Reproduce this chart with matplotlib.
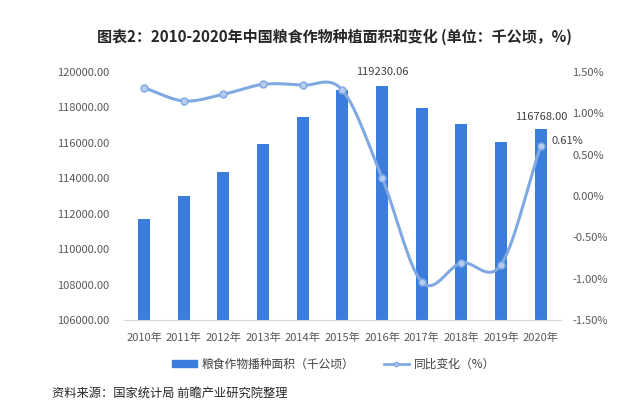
import numpy as np
import matplotlib
matplotlib.use("Agg")
import matplotlib.pyplot as plt
from matplotlib.patches import Patch
from matplotlib.lines import Line2D

plt.rcParams['font.family'] = ['Noto Sans CJK SC', 'DejaVu Sans']

years = ["2010年", "2011年", "2012年", "2013年", "2014年", "2015年",
         "2016年", "2017年", "2018年", "2019年", "2020年"]
area = [111695, 112980, 114368, 115908, 117455, 118963,
        119230.06, 117989, 117038, 116064, 116768.00]
yoy = [1.31, 1.15, 1.23, 1.35, 1.34, 1.28, 0.22, -1.04, -0.81, -0.83, 0.61]
left_ticks = [106000, 108000, 110000, 112000, 114000, 116000, 118000, 120000]
right_ticks = [-1.5, -1.0, -0.5, 0.0, 0.5, 1.0, 1.5]

title = "图表2：2010-2020年中国粮食作物种植面积和变化 (单位：千公顷，%)"
source = "资料来源：国家统计局 前瞻产业研究院整理"
bar_label = "粮食作物播种面积（千公顷）"
line_label = "同比变化（%）"

bar_color = "#3b7ddd"
line_color = "#80a9e2"
tick_color = "#595959"


def smooth(xs, ys, n=30):
    xs = np.asarray(xs, float)
    ys = np.asarray(ys, float)
    px = np.concatenate([[2 * xs[0] - xs[1]], xs, [2 * xs[-1] - xs[-2]]])
    py = np.concatenate([[2 * ys[0] - ys[1]], ys, [2 * ys[-1] - ys[-2]]])
    ox, oy = [], []
    t = np.linspace(0, 1, n)
    for i in range(1, len(px) - 2):
        p0 = np.array([px[i], py[i]])
        p3 = np.array([px[i + 1], py[i + 1]])
        c1 = p0 + (np.array([px[i + 1], py[i + 1]]) - np.array([px[i - 1], py[i - 1]])) / 6
        c2 = p3 - (np.array([px[i + 2], py[i + 2]]) - np.array([px[i], py[i]])) / 6
        b = ((1 - t) ** 3)[:, None] * p0 + (3 * (1 - t) ** 2 * t)[:, None] * c1 \
            + (3 * (1 - t) * t ** 2)[:, None] * c2 + (t ** 3)[:, None] * p3
        ox.extend(b[:, 0]); oy.extend(b[:, 1])
    return np.array(ox), np.array(oy)


fig = plt.figure(figsize=(6.4, 4.13), dpi=100)
ax = fig.add_axes([0.194, 0.2252, 0.682, 0.6005])
x = np.arange(len(years))
ax.bar(x, area, width=0.3, color=bar_color, zorder=2)
ax.set_ylim(106000, 120000)
ax.set_xlim(-0.5, len(years) - 0.5)
ax.set_yticks(left_ticks)
ax.set_yticklabels([f"{v:.2f}" for v in left_ticks])
ax.set_xticks(x)
ax.set_xticklabels(years)
for s in ["top", "right", "left"]:
    ax.spines[s].set_visible(False)
ax.spines["bottom"].set_color("#d9d9d9")
ax.tick_params(axis="both", length=0, labelsize=8, colors=tick_color)
ax.tick_params(axis="y", pad=11)
ax.tick_params(axis="x", pad=9)

ax2 = ax.twinx()
ax2.set_ylim(-1.5, 1.5)
ax2.set_yticks(right_ticks)
ax2.set_yticklabels([f"{v:.2f}%" for v in right_ticks])
for s in ax2.spines.values():
    s.set_visible(False)
ax2.tick_params(axis="y", length=0, labelsize=8, colors=tick_color, pad=8.5)
sx, sy = smooth(x, yoy)
ax2.plot(sx, sy, color=line_color, lw=2.2, zorder=3, solid_capstyle="round")
ax2.plot(x, yoy, "o", ms=5, mfc="#b4cdef", mec=line_color, mew=1, zorder=4)

ax.annotate(f"{area[6]:.2f}", (x[6], area[6]), xytext=(0, 6), textcoords="offset points",
            ha="center", va="bottom", fontsize=8, color="#404040")
ax.annotate(f"{area[10]:.2f}", (x[10], area[10]), xytext=(0, 5), textcoords="offset points",
            ha="center", va="bottom", fontsize=8, color="#404040")
ax2.annotate(f"{yoy[10]:.2f}%", (x[10], yoy[10]), xytext=(8, 3), textcoords="offset points",
             ha="left", va="center", fontsize=8, color="#404040")

fig.text(0.522, 0.912, title, ha="center", va="center", fontsize=10.85,
         fontweight="bold", color="#262626")

handles = [Patch(color=bar_color),
           Line2D([0], [0], color=line_color, lw=2, marker="o", ms=3,
                  mfc="#b4cdef", mec=line_color)]
fig.legend(handles, [bar_label, line_label], loc="center left",
           bbox_to_anchor=(172 / 640, 1 - 364 / 413),
           ncol=2, frameon=False, fontsize=8.5, handlelength=2.1, handleheight=0.55,
           columnspacing=2.45, handletextpad=0.45, borderpad=0, borderaxespad=0,
           labelcolor="#404040")

fig.text(0.081, 0.048, source, ha="left", va="center", fontsize=8.8, color="#262626")

fig.savefig("out.png", dpi=100, facecolor="white")
